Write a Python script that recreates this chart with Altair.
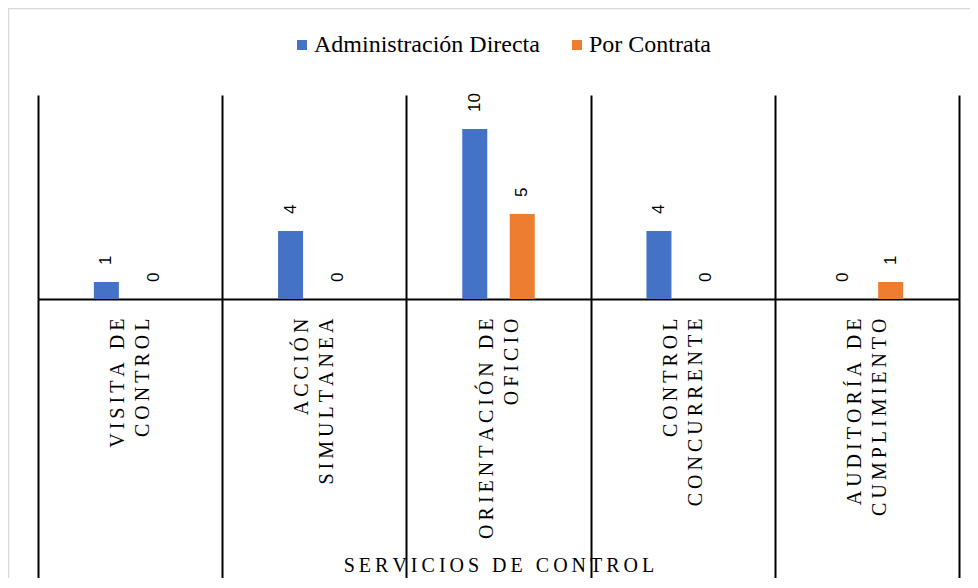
import altair as alt
import pandas as pd

categories = ["VISITA DE|CONTROL", "ACCIÓN|SIMULTANEA", "ORIENTACIÓN DE|OFICIO",
              "CONTROL|CONCURRENTE", "AUDITORÍA DE|CUMPLIMIENTO"]
directa = [1, 4, 10, 4, 0]
contrata = [0, 0, 5, 0, 1]
series_names = ["Administración Directa", "Por Contrata"]
colors = ["#4472C4", "#ED7D31"]
axis_title = "SERVICIOS DE CONTROL"

THIN = "\u2009"


def spaced(s):
    return THIN.join(s)


def label_of(cat):
    return "|".join(spaced(line) for line in cat.split("|"))


rows = []
for c, a, b in zip(categories, directa, contrata):
    rows.append({"cat": label_of(c), "serie": series_names[0], "valor": a})
    rows.append({"cat": label_of(c), "serie": series_names[1], "valor": b})
df = pd.DataFrame(rows)
order = [label_of(c) for c in categories]

TICK = 279

x = alt.X(
    "cat:N", sort=order,
    scale=alt.Scale(paddingInner=0, paddingOuter=0),
    axis=alt.Axis(
        title=spaced(axis_title), titleFont="Liberation Serif", titleFontSize=20,
        titleFontWeight="normal", titleColor="black", titleY=272,
        titleBaseline="alphabetic",
        labelAngle=-90, labelExpr="split(datum.label, '|')", labelLineHeight=25,
        labelFont="Liberation Serif", labelFontSize=20, labelColor="black",
        labelPadding=19 - TICK, labelAlign="right", labelBaseline="middle",
        labelOffset=-12.5, labelLimit=0,
        tickBand="extent", tickSize=TICK, tickColor="black", tickWidth=2,
        domainColor="black", domainWidth=2,
        grid=True, gridColor="black", gridWidth=2,
    ),
)
xoff = alt.XOffset("serie:N", sort=series_names,
                   scale=alt.Scale(paddingInner=0.12, paddingOuter=1))
y = alt.Y("valor:Q", scale=alt.Scale(domain=[0, 12]), axis=None)

bars = alt.Chart(df).mark_bar(width=25).encode(
    x=x, xOffset=xoff, y=y,
    color=alt.Color(
        "serie:N", sort=series_names,
        scale=alt.Scale(domain=series_names, range=colors),
        legend=alt.Legend(
            title=None, orient="none", legendX=252, legendY=-62,
            direction="horizontal", symbolType="square", symbolSize=100,
            symbolStrokeWidth=0, labelFont="Liberation Serif", labelFontSize=24,
            labelColor="black", columnPadding=25, labelOffset=0, padding=0,
            labelLimit=0,
        ),
    ),
)

texts = alt.Chart(df).mark_text(
    angle=270, align="left", baseline="middle", dx=17,
    font="Liberation Sans", fontSize=17, color="black",
).encode(x=x, xOffset=xoff, y=y, text="valor:Q")

border = alt.Chart(pd.DataFrame({"k": [0]})).mark_rect(
    fillOpacity=0, stroke="#d9d9d9", strokeWidth=1.5,
).encode(x=alt.value(-29.5), x2=alt.value(1100), y=alt.value(-86.5), y2=alt.value(700))

chart = alt.layer(border, bars, texts).properties(
    width=921, height=204,
    padding={"left": 30, "top": 87, "right": 11, "bottom": 279},
    autosize=alt.AutoSizeParams(type="none"),
).configure_view(stroke=None)

chart.save("out.html", embed_options={"renderer": "svg", "actions": False})
